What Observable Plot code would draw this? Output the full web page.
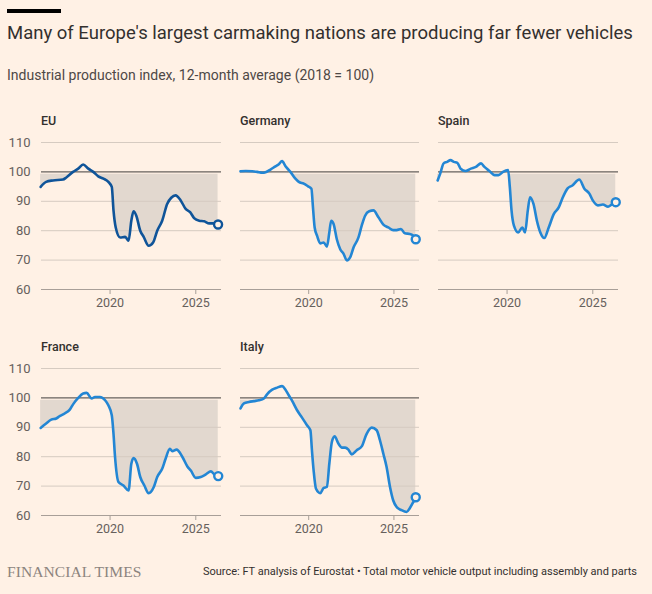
<!DOCTYPE html>
<html><head><meta charset="utf-8">
<script src="https://cdn.jsdelivr.net/npm/d3@7"></script>
<script src="https://cdn.jsdelivr.net/npm/@observablehq/plot@0.6"></script>
<style>
html,body{margin:0;padding:0;background:#fff1e5;}
#root{position:relative;width:652px;height:594px;background:#fff1e5;overflow:hidden;font-family:Roboto,"Noto Sans",sans-serif;}
.abs{position:absolute;white-space:nowrap;}
.bar{left:7px;top:9px;width:54px;height:4px;background:#000;}
.title{left:7px;top:23px;font-size:18.5px;line-height:20px;color:#33302e;}
.sub{left:7px;top:67px;font-size:14px;line-height:16px;color:#4e4845;}
.ptitle{font-size:12.5px;line-height:16px;color:#33302e;font-weight:500;}
.ft{left:7px;top:563px;font-family:"Liberation Serif","DejaVu Serif",serif;font-size:15.5px;line-height:18px;color:#8c847e;letter-spacing:0.1px;}
.src{right:15px;top:565px;font-size:11px;line-height:14px;color:#33302e;}
svg{position:absolute;}
</style></head><body><div id="root">
<div class="abs bar"></div>
<div class="abs title">Many of Europe's largest carmaking nations are producing far fewer vehicles</div>
<div class="abs sub">Industrial production index, 12-month average (2018 = 100)</div>
<div class="abs ft">FINANCIAL TIMES</div>
<div class="abs src">Source: FT analysis of Eurostat • Total motor vehicle output including assembly and parts</div>
</div>
<script>
// ---- data (decimal year, index 2018 = 100) ----
const countries = ["EU", "Germany", "Spain", "France", "Italy"];
const xTicks = [2020, 2025];
const yTicks = [60, 70, 80, 90, 100, 110];

const euYear = [2015.95,2016.27,2016.67,2017.25,2017.45,2017.84,2018.14,2018.43,2018.73,2019.02,2019.31,2019.61,2019.9,2020.1,2020.2,2020.33,2020.59,2020.88,2021.08,2021.24,2021.37,2021.53,2021.76,2021.96,2022.25,2022.51,2022.75,2023.04,2023.33,2023.57,2023.82,2024.12,2024.41,2024.67,2024.9,2025.2,2025.49,2025.78,2026.08,2026.3];
const euIndex = [94.9,96.6,97.1,97.4,98.1,100,101.1,102.5,101.1,100,98.5,97.7,96.6,94.9,86.9,81.1,77.7,77.9,76.6,83.4,86.6,85.1,80,77.9,74.9,76,80,83.4,89.1,91.2,92,90.3,87.4,86.3,84.3,83.4,83.2,82.5,82.5,82.1];

const deYear = [2016.0,2016.31,2016.69,2016.98,2017.28,2017.47,2017.76,2018.05,2018.25,2018.44,2018.64,2018.93,2019.22,2019.42,2019.71,2019.96,2020.16,2020.25,2020.35,2020.49,2020.68,2020.88,2021.07,2021.21,2021.32,2021.46,2021.65,2021.85,2022.04,2022.24,2022.43,2022.63,2022.92,2023.11,2023.31,2023.55,2023.8,2024.09,2024.38,2024.67,2024.96,2025.16,2025.41,2025.64,2025.93,2026.13,2026.28];
const deIndex = [100.2,100.3,100.2,100,99.7,99.9,100.8,101.9,102.6,103.7,101.9,100,97.7,96.6,96,95.1,94.3,88,81.1,78.3,75.7,76,74.6,79.4,83.4,82.3,77.1,73.7,72.2,69.9,70.9,74.3,77.7,81.7,85.1,86.6,86.9,84.6,82.1,81.1,80.2,80.2,80.6,79.1,78.9,78.3,77.1];

const esYear = [2015.95,2016.1,2016.3,2016.5,2016.7,2016.9,2017.1,2017.29,2017.59,2017.89,2018.18,2018.48,2018.68,2018.97,2019.27,2019.5,2019.76,2020.06,2020.16,2020.26,2020.4,2020.65,2020.89,2021.05,2021.21,2021.34,2021.54,2021.74,2021.94,2022.17,2022.43,2022.73,2023.02,2023.22,2023.52,2023.81,2024.21,2024.51,2024.8,2025.0,2025.3,2025.59,2025.89,2026.09,2026.34];
const esIndex = [97.1,99.4,102.9,103.4,104,103.4,103.1,101.1,100.3,101.1,101.7,102.9,101.7,100.3,98.9,98.9,100,100.6,94.9,86.9,81.7,79.4,81.1,79.4,86.9,91.4,89.1,83.4,79.4,77.5,81.1,85.7,88,90.9,94.3,95.4,97.4,94.3,92.6,90.3,88.6,88.9,88.2,88.9,89.7];

const frYear = [2015.95,2016.27,2016.57,2016.86,2017.06,2017.35,2017.65,2017.84,2018.14,2018.43,2018.63,2018.92,2019.12,2019.41,2019.71,2019.9,2020.1,2020.2,2020.29,2020.49,2020.78,2021.08,2021.24,2021.37,2021.57,2021.76,2022.0,2022.25,2022.55,2022.75,2023.04,2023.24,2023.49,2023.63,2023.88,2024.22,2024.51,2024.71,2025.0,2025.29,2025.59,2025.88,2026.08,2026.31];
const frIndex = [89.8,91.3,92.6,93,93.8,94.7,96,97.8,100,101.5,101.7,99.8,100.3,100.3,99.2,97.5,94.1,87.8,79.9,71.4,70.2,68.5,77.6,79.5,77.6,73.1,70.2,67.6,69.7,73.1,75.9,79.3,82.7,81.9,82.4,79.9,76.7,75.3,72.8,73.1,74,75,74,73.4];

const itYear = [2016.0,2016.2,2016.5,2016.79,2017.08,2017.37,2017.57,2017.86,2018.15,2018.44,2018.64,2018.83,2019.03,2019.32,2019.61,2019.9,2020.1,2020.19,2020.29,2020.43,2020.68,2020.88,2021.07,2021.21,2021.36,2021.52,2021.75,2021.95,2022.14,2022.33,2022.53,2022.82,2023.11,2023.4,2023.7,2023.99,2024.18,2024.38,2024.57,2024.77,2024.96,2025.16,2025.45,2025.74,2025.93,2026.13,2026.28];
const itIndex = [96.4,98.1,98.6,98.9,99.2,99.8,101.3,102.8,103.5,104,102.8,100.9,99,95.8,93.3,90.7,89,82.2,75.3,69.1,67.6,69.4,69.7,77.6,85,86.9,84.4,83.1,83.1,82.4,80.8,82.2,83.5,87.8,89.9,89,85.6,81,76.5,69.7,65.1,62.9,61.8,61.2,62.5,64.5,66.2];

const seriesYears = [euYear, deYear, esYear, frYear, itYear];
const seriesValues = [euIndex, deIndex, esIndex, frIndex, itIndex];
const lineColors = ["#0f5499", "#2386d4", "#2386d4", "#2386d4", "#2386d4"];

// ---- layout ----
const BG = "#fff1e5";
const cap = 99.2;
const layout = [
  {left: 0,   top: 128, ml: 41, w: 225, mr: 4, axis: true,  tx: 41,  ty: 113},
  {left: 225, top: 128, ml: 15, w: 200, mr: 6, axis: false, tx: 240, ty: 113},
  {left: 425, top: 128, ml: 13, w: 200, mr: 7, axis: false, tx: 438, ty: 113},
  {left: 0,   top: 354, ml: 41, w: 225, mr: 4, axis: true,  tx: 41,  ty: 339},
  {left: 225, top: 354, ml: 15, w: 200, mr: 6, axis: false, tx: 240, ty: 339}
];

const root = document.getElementById("root");
countries.forEach((name, i) => {
  const L = layout[i];
  const data = seriesYears[i].map((x, j) => ({x, y: seriesValues[i][j]}));
  const last = data[data.length - 1];
  const color = lineColors[i];
  const marks = [
    Plot.areaY(data, {x: "x", y1: d => Math.min(d.y, cap), y2: () => cap, fill: "#e2d8cf", curve: "monotone-x"}),
    Plot.ruleY(yTicks.filter(t => t !== 60 && t !== 100), {stroke: "#d6cbc1", strokeWidth: 1}),
    Plot.ruleY([60], {stroke: "#a89f98", strokeWidth: 1}),
    Plot.ruleY([100], {stroke: "#66605c", strokeWidth: 1.4}),
    Plot.axisX({ticks: xTicks, tickFormat: d => String(d), tickSize: 5, tickPadding: 4, stroke: "#a89f98", fill: "#66605c", fontSize: 12.5}),
    Plot.line(data, {x: "x", y: "y", stroke: color, strokeWidth: 2.6, curve: "monotone-x"}),
    Plot.dot([last], {x: "x", y: "y", r: 4, stroke: color, strokeWidth: 2.4, fill: BG})
  ];
  if (L.axis) {
    marks.push(Plot.axisY({ticks: yTicks, tickSize: 0, tickPadding: 11, fill: "#66605c", fontSize: 13}));
  }
  const svg = Plot.plot({
    width: L.w,
    height: 191,
    marginTop: 14,
    marginBottom: 30,
    marginLeft: L.ml,
    marginRight: L.mr,
    x: {domain: [2016, 2026.5], label: null, axis: null},
    y: {domain: [60, 110], label: null, axis: null},
    style: {background: "transparent", fontFamily: "Roboto, 'Noto Sans', sans-serif", color: "#66605c", overflow: "visible"},
    marks
  });
  svg.style.left = L.left + "px";
  svg.style.top = L.top + "px";
  root.appendChild(svg);
  const t = document.createElement("div");
  t.className = "abs ptitle";
  t.style.left = L.tx + "px";
  t.style.top = L.ty + "px";
  t.textContent = name;
  root.appendChild(t);
});
</script>
</body></html>
